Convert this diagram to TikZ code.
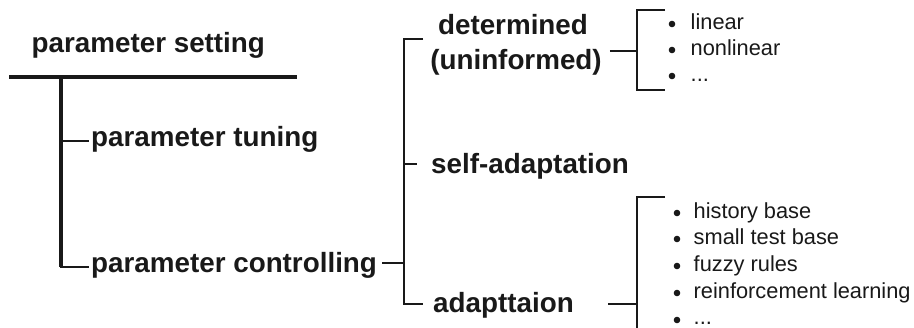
\documentclass[tikz,border=0pt]{standalone}
\usepackage{fontspec}
\setmainfont{Liberation Sans}
\begin{document}
\begin{tikzpicture}[x=1pt,y=-1pt,
  ink/.style={color=black!90},
  head/.style={ink,inner sep=0pt,anchor=base west,font=\bfseries\fontsize{27.8}{32}\selectfont},
  headc/.style={head,anchor=base},
  item/.style={ink,inner sep=0pt,anchor=base west,font=\fontsize{21.8}{26}\selectfont},
  dot/.style={circle,fill=black!90,inner sep=0pt,minimum size=6.6pt},
  thick rule/.style={draw=black!90,line width=4pt},
  stem/.style={draw=black!90,line width=3.4pt},
  twig/.style={draw=black!90,line width=2pt},
  bracket/.style={draw=black!90,line width=1.8pt}]
\useasboundingbox (0,0) rectangle (914,328);

% root and its two branches
\node[head] (root) at (31.5,53) {parameter setting};
\node[head] (tune) at (91,147) {parameter tuning};
\node[head] (ctrl) at (91,273) {parameter controlling};

\coordinate (barL) at (9,77);
\coordinate (barR) at (297,77);
\coordinate (stemTop) at (61,77);
\coordinate (stemBot) at (61,267);
\coordinate (tuneTwig) at (61,141);
\draw[thick rule] (barL) -- (barR);
\draw[stem] (stemTop) -- (stemBot);
\draw[twig] (tuneTwig) -- ([xshift=-2pt]tune.west |- tuneTwig);
\draw[twig] ([xshift=-1pt]stemBot) -- ([xshift=-2pt]ctrl.west |- stemBot);

% kinds of parameter control
\node[headc] (det)  at (513,35) {determined};
\node[headc] (unin) at (516,70) {(uninformed)};
\node[head] (self) at (431,174) {self-adaptation};
\node[head] (adap) at (433,313) {adapttaion};

\coordinate (b1t) at (404,39);
\coordinate (b1m) at (404,164);
\coordinate (b1b) at (404,304);
\coordinate (b1c) at (404,263);
\draw[bracket] ([xshift=19pt]b1t) -- (b1t) -- (b1b) -- ([xshift=19pt]b1b);
\draw[bracket] (b1m) -- ([xshift=-14pt]self.west |- b1m);
\draw[bracket] ([xshift=5pt]ctrl.east |- b1c) -- (b1c);

% determined schedules
\coordinate (b2t) at (637,10);
\coordinate (b2m) at (637,51);
\coordinate (b2b) at (637,90);
\draw[bracket] ([xshift=28pt]b2t) -- (b2t) -- (b2b) -- ([xshift=28pt]b2b);
\draw[bracket] ([xshift=8pt]unin.east |- b2m) -- (b2m);
\node[item] (l1) at (690.5,29.5) {linear};
\node[item] (l2) at (690.5,55.5) {nonlinear};
\node[item] (l3) at (690.5,81.5) {...};
\node[dot] at (672,24) {};
\node[dot] at (672,50) {};
\node[dot] at (672,76) {};

% adaptive mechanisms
\coordinate (b3t) at (637,197);
\coordinate (b3m) at (637,304);
\coordinate (b3b) at (637,332);
\draw[bracket] ([xshift=28pt]b3t) -- (b3t) -- (b3b);
\draw[bracket] ([xshift=175pt]adap.west |- b3m) -- (b3m);
\node[item] (a1) at (693.5,219) {history base};
\node[item] (a2) at (693.5,245) {small test base};
\node[item] (a3) at (693.5,272) {fuzzy rules};
\node[item] (a4) at (693.5,299) {reinforcement learning};
\node[item] (a5) at (693.5,325) {...};
\node[dot] at (677,213) {};
\node[dot] at (677,239) {};
\node[dot] at (677,266) {};
\node[dot] at (677,293) {};
\node[dot] at (677,320) {};
\end{tikzpicture}
\end{document}
